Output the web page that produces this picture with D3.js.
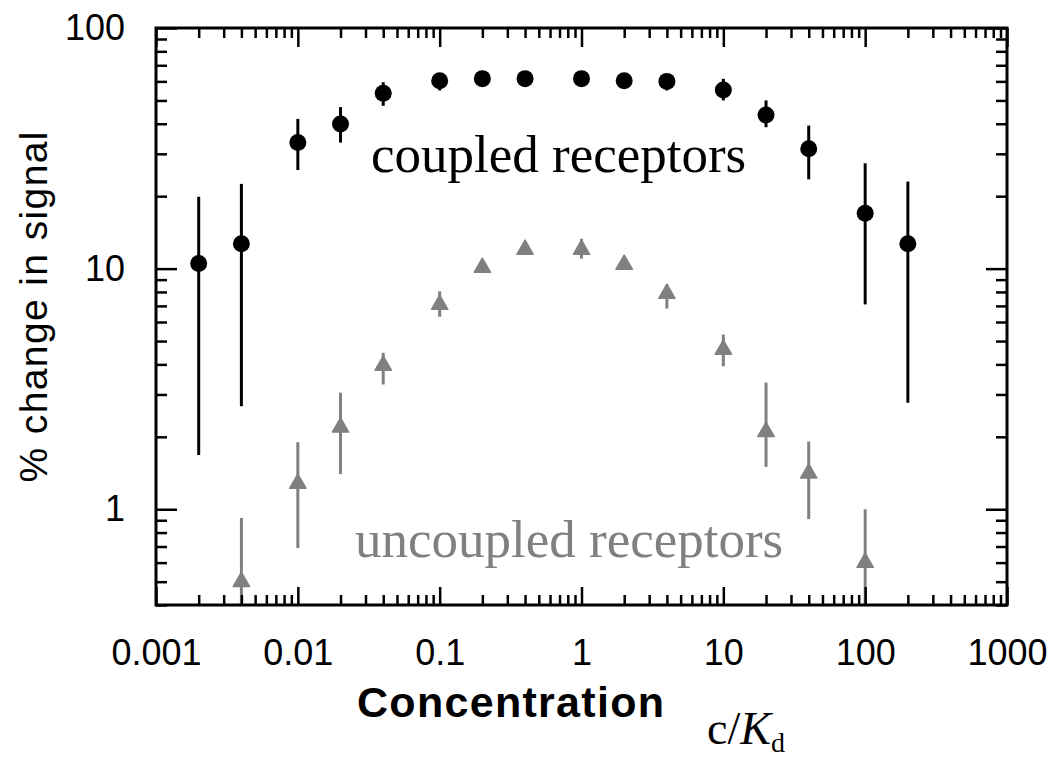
<!DOCTYPE html>
<html>
<head>
<meta charset="utf-8">
<script src="https://cdn.jsdelivr.net/npm/d3@7"></script>
<style>
    body { margin: 0; background: #fff; }
    svg { display: block; }
</style>
</head>
<body>
<div class="graph-center"></div>
<script>
// data
let concentrations = [0.002, 0.004, 0.01, 0.02, 0.04, 0.1, 0.2, 0.4, 1, 2, 4, 10, 20, 40, 100, 200]
let coupled = [10.5, 12.7, 33.4, 39.9, 53.6, 60.4, 61.6, 61.6, 61.6, 60.4, 60.0, 55.3, 43.5, 31.5, 17.0, 12.7]
let coupledLow = [1.68, 2.68, 25.7, 33.4, 47.5, 55.0, 61.6, 61.6, 61.6, 60.4, 55.0, 50.0, 38.7, 23.5, 7.1, 2.77]
let coupledHigh = [19.9, 22.5, 41.9, 46.9, 59.5, 62.0, 61.6, 61.6, 61.6, 60.4, 60.0, 61.5, 50.0, 39.3, 27.4, 23.0]

let uncoupledConc = [0.004, 0.01, 0.02, 0.04, 0.1, 0.2, 0.4, 1, 2, 4, 10, 20, 40, 100]
let uncoupled = [0.5, 1.28, 2.19, 3.96, 7.09, 10.1, 12.0, 12.0, 10.4, 7.87, 4.61, 2.1, 1.41, 0.6]
let uncoupledLow = [0.3, 0.69, 1.40, 3.30, 6.31, 10.1, 12.0, 11.0, 10.4, 6.82, 3.93, 1.5, 0.91, 0.3]
let uncoupledHigh = [0.92, 1.90, 3.05, 4.47, 8.05, 10.1, 12.0, 13.3, 10.4, 8.57, 5.32, 3.36, 1.91, 1.0]

let xMajor = [0.001, 0.01, 0.1, 1, 10, 100, 1000]
let xLabels = ["0.001", "0.01", "0.1", "1", "10", "100", "1000"]
let yMajor = [1, 10, 100]
let yLabels = ["1", "10", "100"]

//global variables
let svgWidth = 1062
let svgHeight = 757

let margin = {
    left: 156,
    right: 55,
    top: 28,
    bottom: 152
}

let height = svgHeight - margin.top - margin.bottom
let width = svgWidth - margin.left - margin.right

let grey = '#808080'

let svg = d3.select('.graph-center')
    .append('svg')
    .attr('width', svgWidth)
    .attr('height', svgHeight)
    .append('g')
    .attr("transform", "translate(" + margin.left + "," + margin.top + ")");

// scales
let xScale = d3.scaleLog()
    .domain([0.001, 1000])
    .range([0, width]);
let yScale = d3.scaleLog()
    .domain([0.4, 100])
    .range([height, 0]);

let xMinor = xScale.ticks().filter(d => xMajor.indexOf(d) < 0)
let yMinor = yScale.ticks().filter(d => yMajor.indexOf(d) < 0)

// clip for marks
svg.append('clipPath')
    .attr('id', 'plot-clip')
    .append('rect')
    .attr('width', width)
    .attr('height', height)

let plot = svg.append('g').attr('clip-path', 'url(#plot-clip)')

// uncoupled error bars + triangles
uncoupledConc.forEach((c, i) => {
    plot.append('line')
        .attr('x1', xScale(c)).attr('x2', xScale(c))
        .attr('y1', yScale(uncoupledLow[i])).attr('y2', yScale(uncoupledHigh[i]))
        .attr('stroke', grey)
        .attr('stroke-width', 3)
})
plot.selectAll('.tri')
    .data(uncoupledConc)
    .join('path')
    .attr('class', 'tri')
    .attr('d', d3.symbol(d3.symbolTriangle, 115))
    .attr('transform', (d, i) => `translate(${xScale(d)},${yScale(uncoupled[i])})`)
    .attr('fill', grey)
    .attr('stroke', grey)
    .attr('stroke-width', 1.5)
    .attr('stroke-linejoin', 'round')

// coupled error bars + circles
concentrations.forEach((c, i) => {
    plot.append('line')
        .attr('x1', xScale(c)).attr('x2', xScale(c))
        .attr('y1', yScale(coupledLow[i])).attr('y2', yScale(coupledHigh[i]))
        .attr('stroke', '#000')
        .attr('stroke-width', 3)
})
plot.selectAll('.dot')
    .data(concentrations)
    .join('circle')
    .attr('class', 'dot')
    .attr('cx', d => xScale(d))
    .attr('cy', (d, i) => yScale(coupled[i]))
    .attr('r', 8.5)
    .attr('fill', '#000')

// axes, ticks pointing inwards on every side
function styleAxis(g) {
    g.select('.domain').remove()
    g.selectAll('line').attr('stroke', '#000').attr('stroke-width', 2.5)
    g.selectAll('text')
        .attr('font-family', 'Liberation Sans, Arial, sans-serif')
        .attr('font-size', 36)
        .attr('fill', '#000')
}

// bottom
svg.append('g')
    .attr('transform', `translate(0,${height})`)
    .call(d3.axisBottom(xScale).tickValues(xMinor).tickSize(-10).tickFormat(''))
    .call(styleAxis)
svg.append('g')
    .attr('transform', `translate(0,${height})`)
    .call(d3.axisBottom(xScale).tickValues(xMajor).tickSize(-18).tickPadding(34)
        .tickFormat((d, i) => xLabels[i]))
    .call(styleAxis)

// top
svg.append('g')
    .call(d3.axisTop(xScale).tickValues(xMinor).tickSize(-10).tickFormat(''))
    .call(styleAxis)
svg.append('g')
    .call(d3.axisTop(xScale).tickValues(xMajor).tickSize(-19).tickFormat(''))
    .call(styleAxis)

// left
svg.append('g')
    .call(d3.axisLeft(yScale).tickValues(yMinor).tickSize(-11).tickFormat(''))
    .call(styleAxis)
svg.append('g')
    .call(d3.axisLeft(yScale).tickValues(yMajor).tickSize(-21).tickPadding(31)
        .tickFormat((d, i) => yLabels[i]))
    .call(styleAxis)

// right
svg.append('g')
    .attr('transform', `translate(${width},0)`)
    .call(d3.axisRight(yScale).tickValues(yMinor).tickSize(-11).tickFormat(''))
    .call(styleAxis)
svg.append('g')
    .attr('transform', `translate(${width},0)`)
    .call(d3.axisRight(yScale).tickValues(yMajor).tickSize(-21).tickFormat(''))
    .call(styleAxis)

// frame
svg.append('rect')
    .attr('width', width)
    .attr('height', height)
    .attr('fill', 'none')
    .attr('stroke', '#000')
    .attr('stroke-width', 3)

// series labels
svg.append('text')
    .attr('x', 371 - margin.left)
    .attr('y', 172 - margin.top)
    .attr('font-family', 'Liberation Serif, Times New Roman, serif')
    .attr('font-size', 53)
    .attr('fill', '#000')
    .text('coupled receptors')

svg.append('text')
    .attr('x', 355 - margin.left)
    .attr('y', 557 - margin.top)
    .attr('font-family', 'Liberation Serif, Times New Roman, serif')
    .attr('font-size', 53)
    .attr('fill', grey)
    .text('uncoupled receptors')

// axis titles
svg.append('text')
    .attr('transform', `translate(${47 - margin.left},${307 - margin.top}) rotate(-90)`)
    .attr('text-anchor', 'middle')
    .attr('font-family', 'Liberation Sans, Arial, sans-serif')
    .attr('font-size', 39)
    .attr('textLength', 351)
    .attr('lengthAdjust', 'spacing')
    .attr('fill', '#000')
    .text('% change in signal')

svg.append('text')
    .attr('x', 357 - margin.left)
    .attr('y', 717 - margin.top)
    .attr('font-family', 'Liberation Sans, Arial, sans-serif')
    .attr('font-size', 43)
    .attr('font-weight', 'bold')
    .attr('textLength', 307)
    .attr('lengthAdjust', 'spacing')
    .attr('fill', '#000')
    .text('Concentration')

let unit = svg.append('text')
    .attr('x', 707 - margin.left)
    .attr('y', 744 - margin.top)
    .attr('font-family', 'Liberation Serif, Times New Roman, serif')
    .attr('font-size', 46)
    .attr('fill', '#000')
unit.append('tspan').text('c/')
unit.append('tspan').attr('font-style', 'italic').text('K')
unit.append('tspan').attr('font-size', 28).attr('dy', 8).text('d')
</script>
</body>
</html>
